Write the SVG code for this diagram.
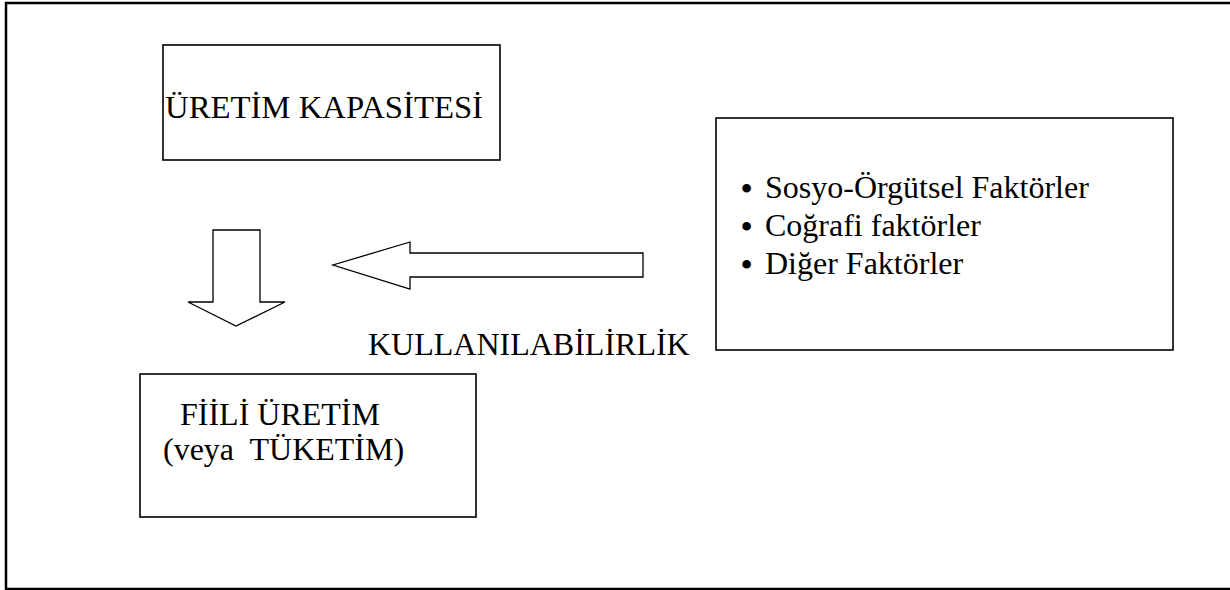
<svg xmlns="http://www.w3.org/2000/svg" width="1230" height="590" viewBox="0 0 1230 590">
<style>
.box{fill:#fff;stroke:#000;stroke-width:1.6}
.arrow{fill:#fff;stroke:#000;stroke-width:1.3;stroke-linejoin:miter}
.t{font-family:"Liberation Serif","Times New Roman",serif;font-size:32px;fill:#000;white-space:pre}
.b{font-family:"Liberation Serif","Times New Roman",serif;font-size:32px;font-weight:bold;fill:#000}
</style>
<rect x="0" y="0" width="1230" height="590" fill="#fff"/>
<rect id="frame" x="6" y="3" width="1240" height="586" fill="none" stroke="#000" stroke-width="2.5"/>
<g id="uretim-kapasitesi">
<rect class="box" x="163" y="45" width="337" height="115"/>
<text class="t" x="165" y="118" textLength="318" lengthAdjust="spacingAndGlyphs">ÜRETİM KAPASİTESİ</text>
</g>
<g id="faktorler">
<rect class="box" x="716" y="118" width="457" height="232"/>
<text class="b" x="741" y="199">•</text>
<text class="t" x="765" y="198">Sosyo-Örgütsel Faktörler</text>
<text class="b" x="741" y="237">•</text>
<text class="t" x="765" y="236">Coğrafi faktörler</text>
<text class="b" x="741" y="275">•</text>
<text class="t" x="765" y="274">Diğer Faktörler</text>
</g>
<g id="fiili-uretim">
<rect class="box" x="140" y="374" width="336" height="143"/>
<text class="t" x="180" y="425">FİİLİ ÜRETİM</text>
<text class="t" x="163" y="460">(veya  TÜKETİM)</text>
</g>
<g id="kullanilabilirlik">
<text class="t" x="368" y="355">KULLANILABİLİRLİK</text>
</g>
<g id="connectors">
<polygon class="arrow" points="213,230 260,230 260,302 285,302 236,326 188,302 213,302"/>
<polygon class="arrow" points="643,253 410,253 410,242 333,265 410,289 410,277 643,277"/>
</g>
</svg>
